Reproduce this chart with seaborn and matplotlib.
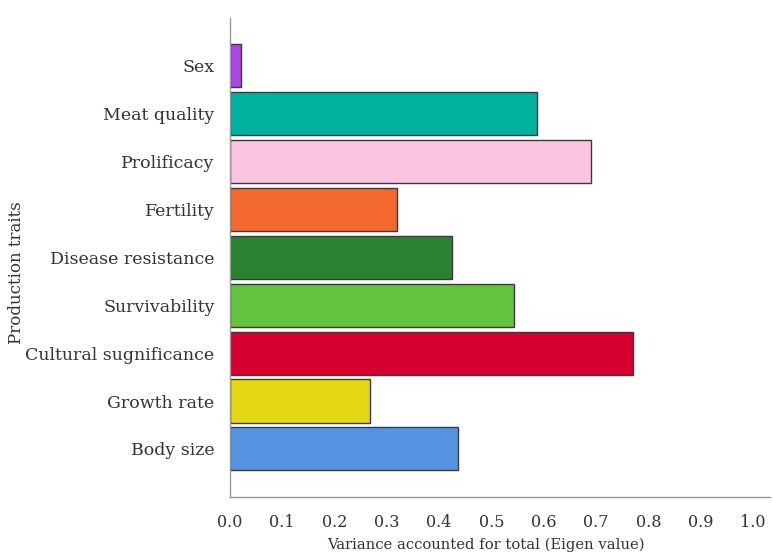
import pandas as pd
import matplotlib.pyplot as plt
import seaborn as sns

traits = ["Sex", "Meat quality", "Prolificacy", "Fertility", "Disease resistance",
          "Survivability", "Cultural sugnificance", "Growth rate", "Body size"]
eigen = [0.021, 0.588, 0.691, 0.320, 0.425, 0.544, 0.771, 0.268, 0.436]
colors = ["#A647E6", "#00B3A0", "#FBC5E2", "#F2682E", "#2A8230",
          "#62C43C", "#D6002E", "#E3D612", "#5494E3"]
xticks = [0.0, 0.1, 0.2, 0.3, 0.4, 0.5, 0.6, 0.7, 0.8, 0.9, 1.0]


def make_chart():
    df = pd.DataFrame({"trait": traits, "eigen": eigen})

    sns.set_theme(style="white")
    plt.rcParams['font.family'] = ['DejaVu Serif']

    fig = plt.figure(figsize=(7.74, 5.57), dpi=100)
    ax = fig.add_axes([0.297, 0.108, 0.698, 0.860])

    sns.barplot(data=df, x="eigen", y="trait", hue="trait", palette=colors,
                legend=False, width=0.9, saturation=1, edgecolor="#3a3a3a",
                linewidth=1, ax=ax)

    ax.set_xlim(0, 1.033)
    ax.set_ylim(9, -1)
    ax.set_xticks(xticks)
    ax.set_xticklabels([f"{t:.1f}" for t in xticks], fontsize=11.5, color="#333333")
    ax.tick_params(axis="y", labelsize=12.5, labelcolor="#333333", pad=11)
    ax.tick_params(axis="x", pad=12)
    ax.tick_params(length=0)

    ax.set_xlabel("Variance accounted for total (Eigen value)", fontsize=10.6,
                  color="#333333")
    ax.set_ylabel("Production traits", fontsize=12, color="#333333")
    ax.xaxis.set_label_coords(0.474, -0.085)
    ax.yaxis.set_label_coords(-0.380, 0.468)

    for s in ["top", "right"]:
        ax.spines[s].set_visible(False)
    for s in ["left", "bottom"]:
        ax.spines[s].set_color("#999999")
        ax.spines[s].set_linewidth(1)

    fig.savefig("out.png", dpi=100)


if __name__ == "__main__":
    make_chart()
